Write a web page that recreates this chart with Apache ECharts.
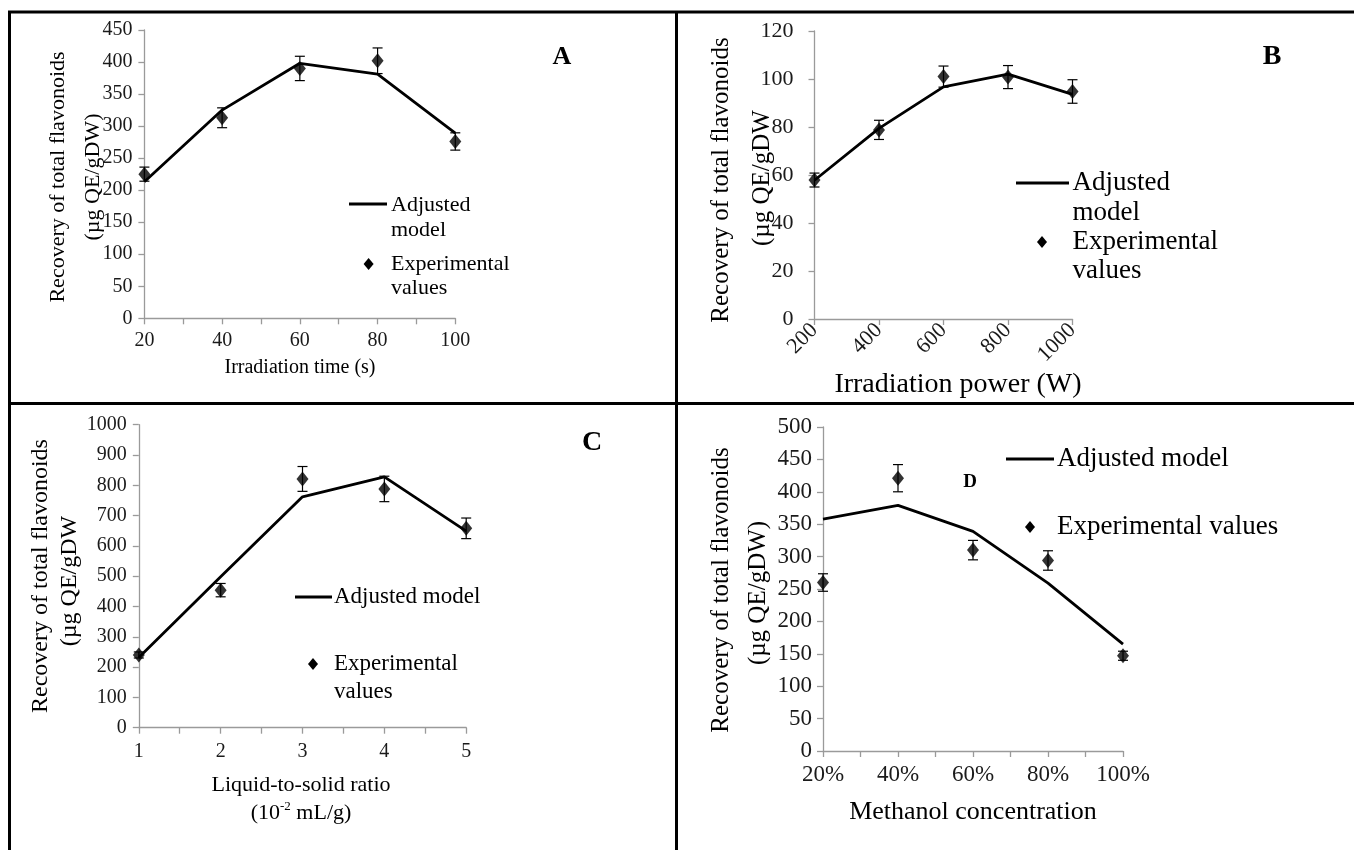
<!DOCTYPE html>
<html><head><meta charset="utf-8">
<script src="https://cdn.jsdelivr.net/npm/echarts@6/dist/echarts.min.js"></script>
<style>html,body{margin:0;padding:0;background:#fff}#c{width:1354px;height:850px}</style>
</head><body><div id="c"></div>
<script>
// ---- Panel A : irradiation time ----
const xA = [20, 40, 60, 80, 100];
const modelA = [213, 325, 398, 381, 289];
const expA = [225, 313, 390, 402, 276];
const errA = [11, 15.5, 19, 20, 13.5];
// ---- Panel B : irradiation power ----
const xB = [200, 400, 600, 800, 1000];
const modelB = [57.8, 79.4, 96.7, 102, 93.6];
const expB = [57.9, 78.8, 101, 100.8, 94.8];
const errB = [2.9, 4, 4.4, 4.8, 4.9];
// ---- Panel C : liquid-to-solid ratio ----
const xC = [1, 2, 3, 4, 5];
const modelC = [232, 498, 762, 828, 649];
const expC = [240, 454, 821, 788, 658];
const errC = [10, 22, 41, 42, 34];
// ---- Panel D : methanol concentration ----
const xD = [20, 40, 60, 80, 100];
const modelD = [358, 379, 339, 259, 165];
const expD = [260, 421, 310, 294, 147];
const errD = [13.5, 21, 15, 15, 7];

const FONT = '"Liberation Serif", "Times New Roman", serif';
const AX = '#9a9a9a';
const TXT = '#1a1a1a';

function yAx(idx, max, interval, fs, margin) {
  return { type: 'value', gridIndex: idx, min: 0, max: max, interval: interval,
    axisLine: { show: true, onZero: false, lineStyle: { color: AX, width: 1.3 } },
    axisTick: { show: true, length: 6, lineStyle: { color: AX, width: 1.3 } },
    splitLine: { show: false },
    axisLabel: { color: TXT, fontFamily: FONT, fontSize: fs, margin: margin, formatter: v => String(v) } };
}
function xAx(idx, min, max, interval, fs, margin, fmt, rotate) {
  return { type: 'value', gridIndex: idx, min: min, max: max, interval: interval,
    axisLine: { show: true, onZero: false, lineStyle: { color: AX, width: 1.3 } },
    axisTick: { show: true, length: 6, lineStyle: { color: AX, width: 1.3 } },
    splitLine: { show: false },
    axisLabel: { color: TXT, fontFamily: FONT, fontSize: fs, margin: margin, formatter: fmt, rotate: rotate || 0 } };
}
function lineS(idx, xs, ys) {
  return { type: 'line', name: 'Adjusted model', xAxisIndex: idx, yAxisIndex: idx, z: 2,
    data: xs.map((x, i) => [x, ys[i]]), showSymbol: false, symbol: 'none',
    lineStyle: { color: '#000', width: 2.8 }, itemStyle: { color: '#000' }, animation: false };
}
function scatS(idx, xs, ys) {
  return { type: 'scatter', name: 'Experimental values', xAxisIndex: idx, yAxisIndex: idx, z: 4,
    data: xs.map((x, i) => [x, ys[i]]), symbol: 'diamond', symbolSize: [12, 15],
    itemStyle: { color: '#000' }, animation: false };
}
function errS(idx, xs, ys, es) {
  return { type: 'custom', xAxisIndex: idx, yAxisIndex: idx, z: 3, silent: true, animation: false,
    encode: { x: 0, y: [1, 2] },
    data: xs.map((x, i) => [x, ys[i] - es[i], ys[i] + es[i]]),
    renderItem: function (params, api) {
      const lo = api.coord([api.value(0), api.value(1)]);
      const hi = api.coord([api.value(0), api.value(2)]);
      const w = 5, st = { stroke: '#000', lineWidth: 1.2 };
      return { type: 'group', children: [
        { type: 'line', shape: { x1: lo[0], y1: lo[1], x2: hi[0], y2: hi[1] }, style: st },
        { type: 'line', shape: { x1: lo[0] - w, y1: lo[1], x2: lo[0] + w, y2: lo[1] }, style: st },
        { type: 'line', shape: { x1: hi[0] - w, y1: hi[1], x2: hi[0] + w, y2: hi[1] }, style: st }
      ] };
    } };
}
function txt(x, y, text, fs, o) {
  o = o || {};
  const el = { type: 'text', x: x, y: y, z: 10, style: { text: text, fontFamily: FONT, fontSize: fs,
    fontWeight: o.bold ? 'bold' : 'normal', fill: o.fill || '#000', align: o.align || 'left', verticalAlign: 'middle' } };
  if (o.rot) el.rotation = o.rot;
  if (o.rich) el.style.rich = o.rich;
  if (o.sx) el.scaleX = o.sx;
  return el;
}
function seg(x1, y1, x2, y2, w) {
  return { type: 'line', z: 10, shape: { x1: x1, y1: y1, x2: x2, y2: y2 }, style: { stroke: '#000', lineWidth: w } };
}
function dia(cx, cy) {
  return { type: 'polygon', z: 10, shape: { points: [[cx, cy - 6], [cx + 5, cy], [cx, cy + 6], [cx - 5, cy]] }, style: { fill: '#000' } };
}
const R = Math.PI / 2;

const graphics = [
  // frame
  seg(8, 12, 1354, 12, 3), seg(9.5, 12, 9.5, 850, 3), seg(676.5, 12, 676.5, 850, 3), seg(8, 403.5, 1354, 403.5, 3),
  // Panel A texts
  txt(562, 57, 'A', 26, { bold: true, align: 'center' }),
  txt(58.5, 177, 'Recovery of total flavonoids', 22, { align: 'center', rot: R }),
  txt(93, 177, '(µg QE/gDW)', 22, { align: 'center', rot: R }),
  txt(300, 368, 'Irradiation time (s)', 20, { align: 'center' }),
  seg(349, 204, 387, 204, 2.8),
  txt(391, 205, 'Adjusted', 22), txt(391, 230, 'model', 22),
  dia(368.6, 264), txt(391, 264, 'Experimental', 22), txt(391, 288, 'values', 22),
  // Panel B texts
  txt(1272, 57, 'B', 28, { bold: true, align: 'center' }),
  txt(721, 180, 'Recovery of total flavonoids', 25, { align: 'center', rot: R }),
  txt(762, 178, '(µg QE/gDW', 25, { align: 'center', rot: R }),
  txt(958, 385, 'Irradiation power (W)', 28, { align: 'center' }),
  seg(1016, 183, 1069, 183, 2.8),
  txt(1072.5, 183, 'Adjusted', 27), txt(1072.5, 213, 'model', 27),
  dia(1042, 242), txt(1072.5, 242, 'Experimental', 27), txt(1072.5, 271, 'values', 27),
  // Panel C texts
  txt(592, 443, 'C', 28, { bold: true, align: 'center' }),
  txt(41, 576, 'Recovery of total flavonoids', 24, { align: 'center', rot: R }),
  txt(69.5, 581, '(µg QE/gDW', 24, { align: 'center', rot: R }),
  txt(301, 785, 'Liquid-to-solid ratio', 22, { align: 'center' }),
  txt(301, 813, '(10{sup|-2} mL/g)', 22, { align: 'center', rich: { sup: { fontSize: 13, fontFamily: FONT, verticalAlign: 'top', lineHeight: 26 } } }),
  seg(295, 597, 332, 597, 2.8),
  txt(334, 597, 'Adjusted model', 23),
  dia(313, 664), txt(334, 664, 'Experimental', 23), txt(334, 692, 'values', 23),
  // Panel D texts
  txt(970, 482, 'D', 19, { bold: true, align: 'center' }),
  txt(721, 590, 'Recovery of total flavonoids', 25, { align: 'center', rot: R }),
  txt(758, 593, '(µg QE/gDW)', 25, { align: 'center', rot: R }),
  txt(973, 812, 'Methanol concentration', 26, { align: 'center' }),
  seg(1006, 459, 1054, 459, 2.8),
  txt(1057, 459, 'Adjusted model', 27),
  dia(1030, 527), txt(1057, 527, 'Experimental values', 27)
];

const option = {
  backgroundColor: '#fff',
  animation: false,
  grid: [
    { left: 144.4, top: 30, width: 310.9, height: 288.3 },
    { left: 814.5, top: 31, width: 258, height: 288 },
    { left: 138.8, top: 424.7, width: 327.4, height: 303 },
    { left: 823, top: 427, width: 300, height: 324 }
  ],
  xAxis: [
    xAx(0, 20, 100, 10, 20, 12, v => (v % 20 === 0 ? String(v) : '')),
    xAx(1, 200, 1000, 200, 22, 8, v => String(v), 45),
    xAx(2, 1, 5, 0.5, 20, 14, v => (Number.isInteger(v) ? String(v) : '')),
    xAx(3, 20, 100, 10, 23, 12, v => (v % 20 === 0 ? v + '%' : ''))
  ],
  yAxis: [
    yAx(0, 450, 50, 20, 12),
    yAx(1, 120, 20, 22, 21),
    yAx(2, 1000, 100, 20, 12),
    yAx(3, 500, 50, 23, 11)
  ],
  series: [
    lineS(0, xA, modelA), errS(0, xA, expA, errA), scatS(0, xA, expA),
    lineS(1, xB, modelB), errS(1, xB, expB, errB), scatS(1, xB, expB),
    lineS(2, xC, modelC), errS(2, xC, expC, errC), scatS(2, xC, expC),
    lineS(3, xD, modelD), errS(3, xD, expD, errD), scatS(3, xD, expD)
  ],
  graphic: graphics
};
const chart = echarts.init(document.getElementById('c'), null, { renderer: 'canvas' });
chart.setOption(option);
</script>
</body></html>
